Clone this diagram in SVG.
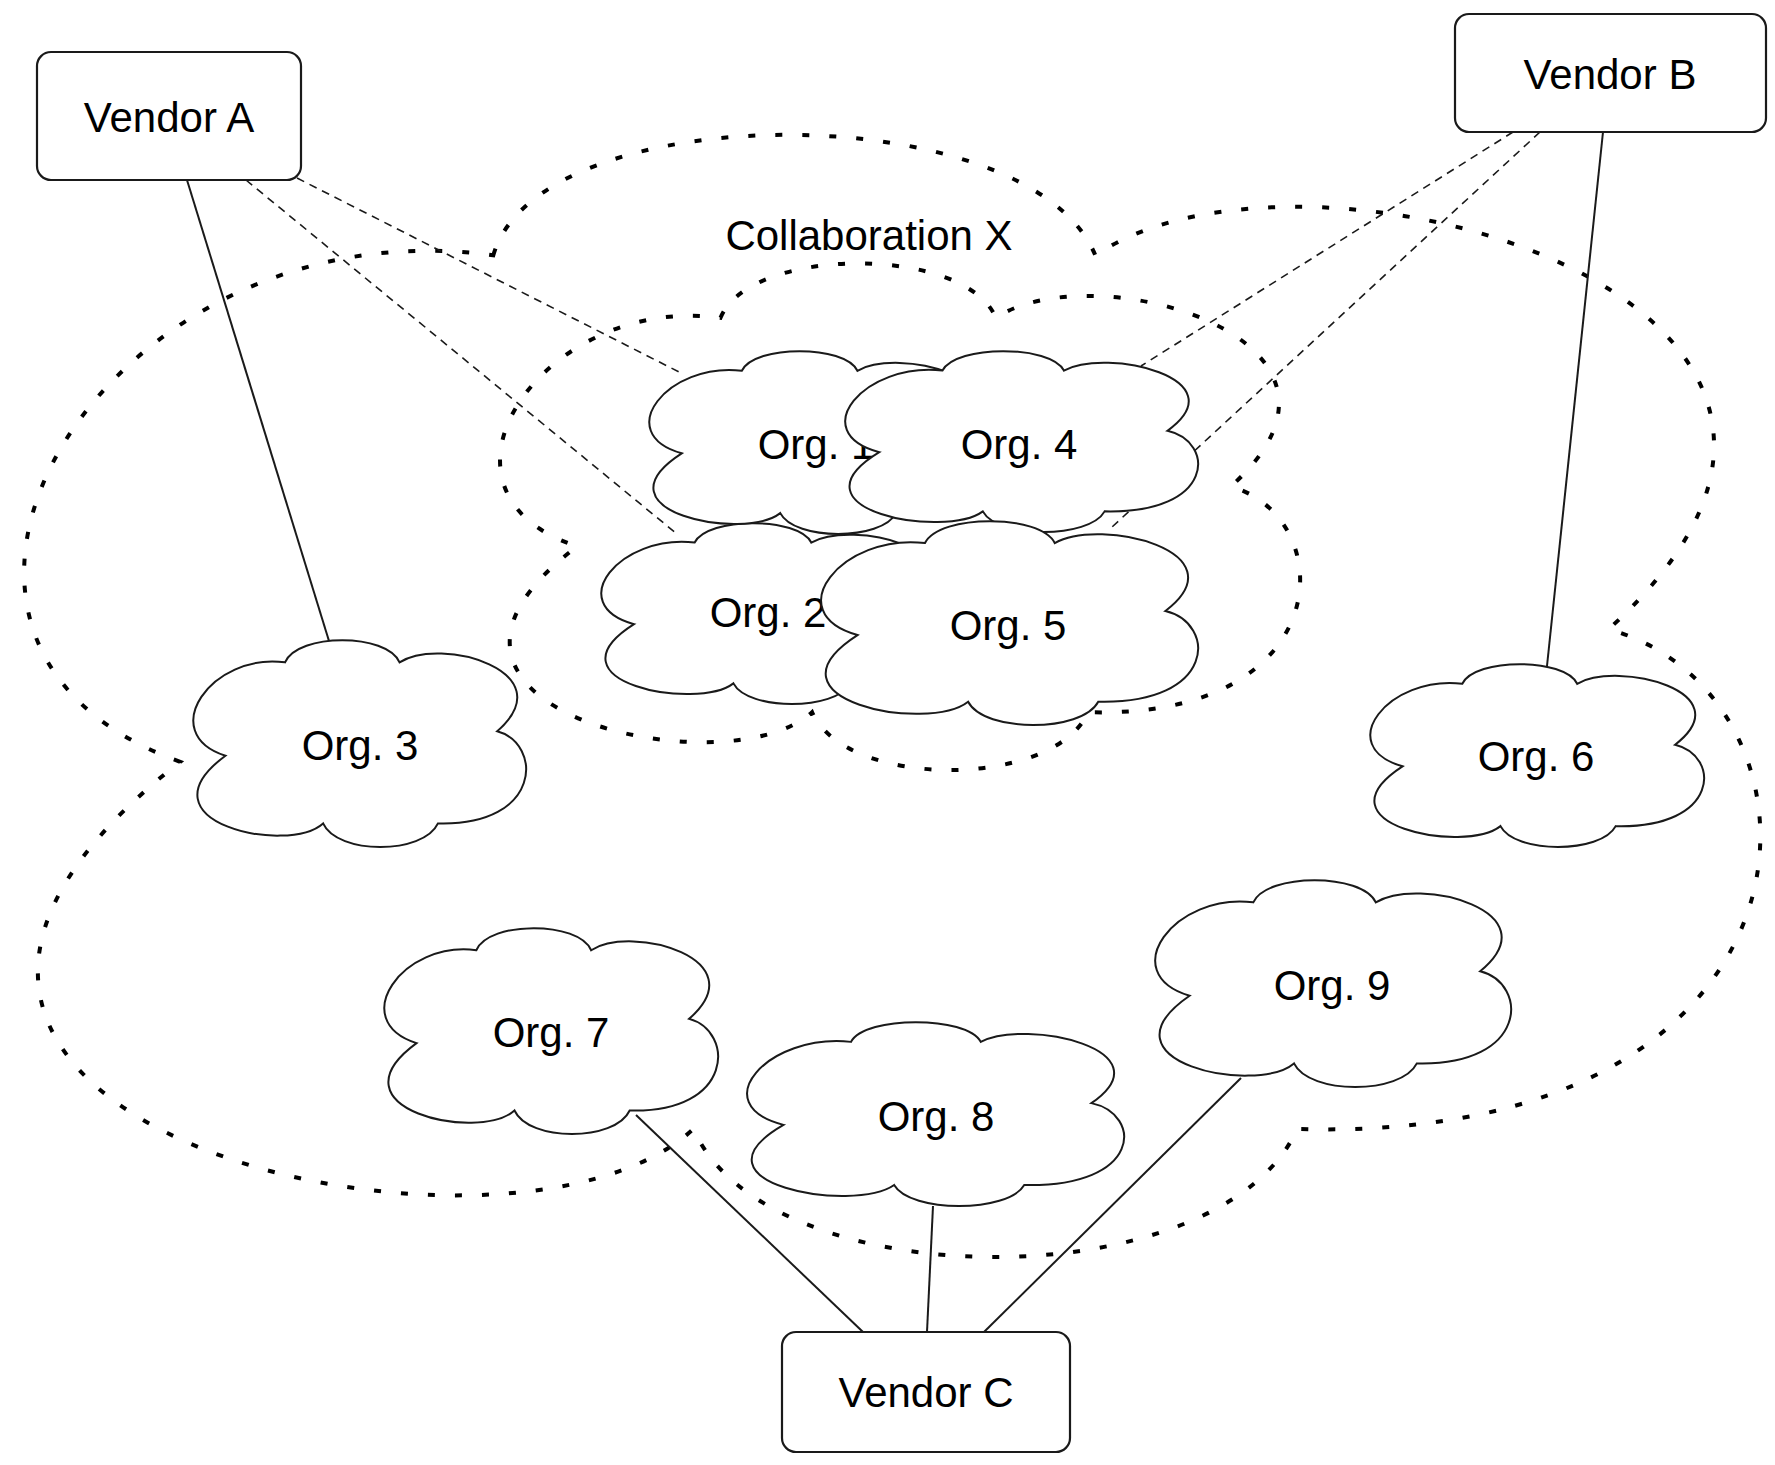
<svg xmlns="http://www.w3.org/2000/svg" xmlns:xlink="http://www.w3.org/1999/xlink" width="1775" height="1465" viewBox="0 0 1775 1465">
<style>
.bg{fill:#fff}
.group{fill:none;stroke:#000;stroke-width:4;stroke-dasharray:7 20;stroke-linecap:butt}
.solid{stroke:#1a1a1a;stroke-width:2;fill:none}
.dash{stroke:#1a1a1a;stroke-width:1.6;fill:none;stroke-dasharray:8 6}
.box{fill:#fff;stroke:#1a1a1a;stroke-width:2.2}
.cloud{fill:#fff;stroke:#1a1a1a}
.lbl{font-family:"Liberation Sans",Arial,Helvetica,sans-serif;font-size:42px;fill:#000;text-anchor:middle}
</style>
<defs>
<path id="cloudShape" vector-effect="non-scaling-stroke" stroke-width="2" d="M27.2,10.8 C31,-3.5 58,-3.5 61.8,10.8 C74,-2 112,15 91.3,44.1 C105,50 105,90 73.4,88.6 C69,103.8 43,103.8 38.7,88.6 C28,104 -18,88 9.2,55.9 C-12,45 5,6 27.2,10.8 Z"/>
</defs>
<rect class="bg" x="0" y="0" width="1775" height="1465"/>
<g id="collaboration-x">
<path class="group" d="M493.3,255.3 C539.4,94.7 1029.2,94.7 1095.3,255.3 C1307.6,111.5 1968.8,302.5 1608.6,629.2 C1847,695.5 1847,1144.7 1297.2,1129 C1220.6,1299.7 768.2,1299.7 693.4,1129 C507.2,1301.9 -280,1122.2 180.1,761.8 C-160,639.4 107,201.4 493.3,255.3 Z"/>
<text class="lbl" x="869" y="250">Collaboration X</text>
</g>
<g id="inner-group">
<path class="group" d="M720.5,317.8 C750.8,245.3 965.7,245.3 995.9,317.8 C1093,252.9 1395.5,339.1 1230.7,486.6 C1339.8,516.5 1339.8,719.3 1088.3,712.2 C1053.2,789.3 846.3,789.3 812.1,712.2 C726.9,790.3 360.7,709.2 577.2,546.4 C408.5,491.2 543.8,293.4 720.5,317.8 Z"/>
</g>
<g id="connectors">
<line class="solid" x1="187" y1="180" x2="329" y2="641"/>
<line class="dash" x1="297" y1="178" x2="683" y2="374"/>
<line class="dash" x1="246" y1="180" x2="677" y2="534"/>
<line class="solid" x1="1603" y1="132" x2="1547" y2="666"/>
<line class="dash" x1="1513" y1="132" x2="1141" y2="366"/>
<line class="dash" x1="1540" y1="132" x2="1112" y2="527"/>
<line class="solid" x1="863" y1="1332" x2="636" y2="1115"/>
<line class="solid" x1="927" y1="1332" x2="933" y2="1206"/>
<line class="solid" x1="984" y1="1332" x2="1241" y2="1078"/>
</g>
<g id="vendor-a"><rect class="box" x="37" y="52" width="264" height="128" rx="14"/><text class="lbl" x="169" y="132">Vendor A</text></g>
<g id="vendor-b"><rect class="box" x="1455" y="14" width="311" height="118" rx="14"/><text class="lbl" x="1610" y="89">Vendor B</text></g>
<g id="vendor-c"><rect class="box" x="782" y="1332" width="288" height="120" rx="14"/><text class="lbl" x="926" y="1407">Vendor C</text></g>
<g id="org-2"><use href="#cloudShape" class="cloud" transform="translate(603 523) scale(3.37 1.81)"/><text class="lbl" x="768" y="627">Org. 2</text></g>
<g id="org-1"><use href="#cloudShape" class="cloud" transform="translate(651 351) scale(3.34 1.83)"/><text class="lbl" x="816" y="459">Org. 1</text></g>
<g id="org-4"><use href="#cloudShape" class="cloud" transform="translate(847 351) scale(3.51 1.81)"/><text class="lbl" x="1019" y="459">Org. 4</text></g>
<g id="org-5"><use href="#cloudShape" class="cloud" transform="translate(823 521) scale(3.75 2.04)"/><text class="lbl" x="1008" y="640">Org. 5</text></g>
<g id="org-3"><use href="#cloudShape" class="cloud" transform="translate(195 640) scale(3.31 2.07)"/><text class="lbl" x="360" y="760">Org. 3</text></g>
<g id="org-6"><use href="#cloudShape" class="cloud" transform="translate(1372 664) scale(3.32 1.83)"/><text class="lbl" x="1536" y="771">Org. 6</text></g>
<g id="org-7"><use href="#cloudShape" class="cloud" transform="translate(386 928) scale(3.32 2.06)"/><text class="lbl" x="551" y="1047">Org. 7</text></g>
<g id="org-8"><use href="#cloudShape" class="cloud" transform="translate(749 1022) scale(3.75 1.84)"/><text class="lbl" x="936" y="1131">Org. 8</text></g>
<g id="org-9"><use href="#cloudShape" class="cloud" transform="translate(1157 880) scale(3.54 2.07)"/><text class="lbl" x="1332" y="1000">Org. 9</text></g>
</svg>
